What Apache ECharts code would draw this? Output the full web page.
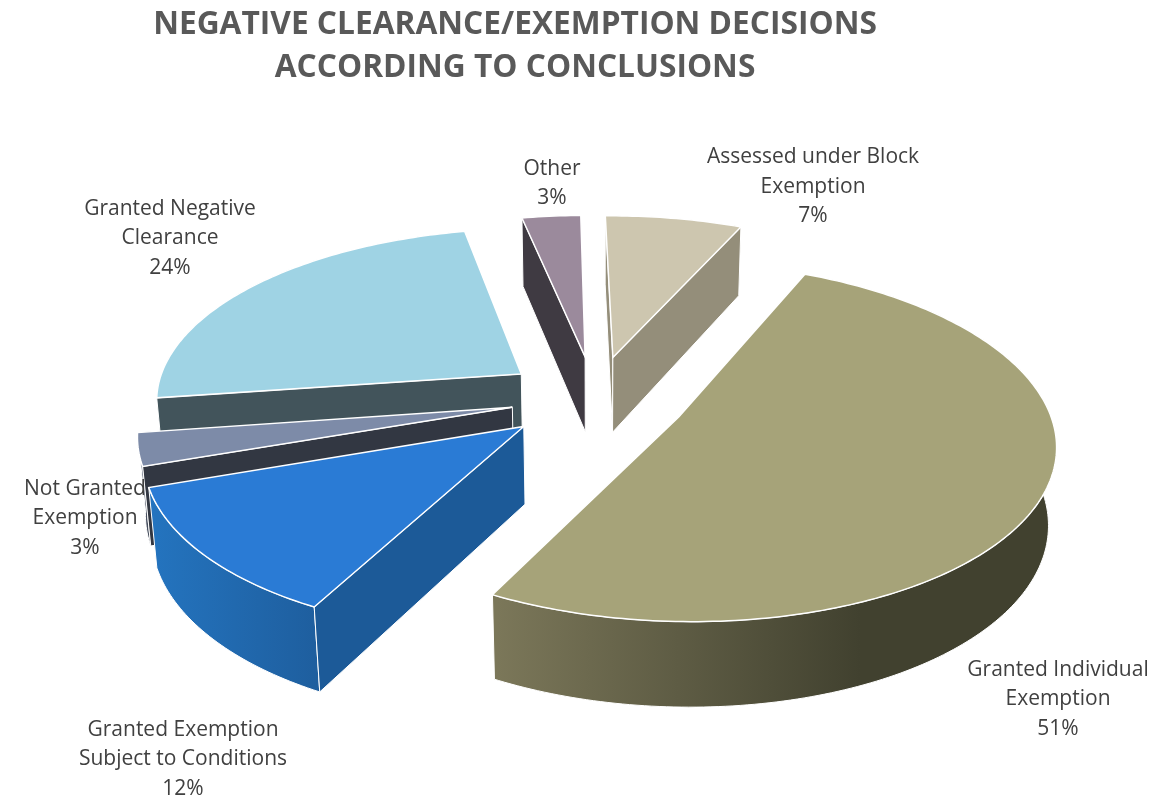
<!DOCTYPE html>
<html>
<head>
<meta charset="utf-8">
<title>Negative clearance/exemption decisions</title>
<script src="https://cdn.jsdelivr.net/npm/echarts@6/dist/echarts.min.js"></script>
<style>
  html, body { margin: 0; padding: 0; background: #fff; }
  #main { width: 1172px; height: 797px; }
</style>
</head>
<body>
<div id="main"></div>
<script>
// data, clockwise from the first slice
const categories = [
  'Granted Individual\nExemption',
  'Granted Exemption\nSubject to Conditions',
  'Not Granted\nExemption',
  'Granted Negative\nClearance',
  'Other',
  'Assessed under Block\nExemption'
];
const shares = [51, 12, 3, 24, 3, 7];

// styles
const topColors = ['#a6a379', '#2a7bd5', '#7d8ba8', '#9fd3e4', '#9b8a9c', '#cdc6af'];
const sideColors = ['#41412f', '#1c5a98', '#323742', '#42545b', '#3f3a42', '#948e7a'];
const rimGradients = [
  [497, 860, '#7b7759', '#41412f'],
  [150, 320, '#2474bf', '#1e5e9e'],
  [140, 155, '#5b657a', '#323742'],
  [158, 520, '#42545b', '#42545b'],
  [520, 585, '#3f3a42', '#3f3a42'],
  [610, 740, '#948e7a', '#948e7a']
];
const labelSpots = [[1058, 699.5], [183, 759.5], [85, 518.5], [170, 238.5], [552, 183.5], [813, 187]];
const explodes = [0.25, 0.25, 0.23, 0.25, 0.25, 0.25];
// back slices are painted first
const paintOrder = [4, 5, 3, 2, 1, 0];

// fake 3d camera for the tilted pie
const START_ANGLE = 24.2;
const THICKNESS = 0.24;
const CENTER_X = 595, CENTER_Y = 398;
const TILT = 27.8 * Math.PI / 180;
const CAM_DIST = 6.5, FOCAL = 2385;

const project = (x, y, z) => {
  const up = y * Math.sin(TILT) + z * Math.cos(TILT);
  const depth = CAM_DIST + y * Math.cos(TILT) - z * Math.sin(TILT);
  return [CENTER_X + FOCAL * x / depth, CENTER_Y - FOCAL * up / depth];
};

const total = shares.reduce((a, b) => a + b, 0);
const sliceStart = (idx) => {
  let sum = 0;
  for (let i = 0; i < idx; i++) sum += shares[i];
  return START_ANGLE + sum / total * 360;
};

// screen winding of a wall, tells which way it faces
const winding = (a, b, c) => (b[0] - a[0]) * (c[1] - b[1]) - (b[1] - a[1]) * (c[0] - b[0]);

const renderSlice = (params, api) => {
  const idx = api.value(0);
  const from = sliceStart(idx);
  const to = from + api.value(1) / total * 360;
  const mid = (from + to) / 2 * Math.PI / 180;
  const ox = explodes[idx] * Math.sin(mid), oy = explodes[idx] * Math.cos(mid);

  const topArc = [], lowArc = [];
  for (let a = from; a < to; a += 1) {
    const r = a * Math.PI / 180;
    topArc.push(project(ox + Math.sin(r), oy + Math.cos(r), 0));
    lowArc.push(project(ox + Math.sin(r), oy + Math.cos(r), -THICKNESS));
  }
  const e = to * Math.PI / 180;
  topArc.push(project(ox + Math.sin(e), oy + Math.cos(e), 0));
  lowArc.push(project(ox + Math.sin(e), oy + Math.cos(e), -THICKNESS));

  const apexTop = project(ox, oy, 0);
  const apexLow = project(ox, oy, -THICKNESS);
  const last = topArc.length - 1;
  const rim = rimGradients[idx];
  const edge = { stroke: '#fff', lineWidth: 1 };
  const poly = (points, fill, style) => ({
    type: 'polygon',
    shape: { points: points },
    style: Object.assign({ fill: fill }, style)
  });

  const children = [
    poly(topArc.concat(lowArc.slice().reverse()),
      new echarts.graphic.LinearGradient(rim[0], 0, rim[1], 0, [
        { offset: 0, color: rim[2] },
        { offset: 1, color: rim[3] }
      ], true), edge)
  ];
  if (winding(apexTop, topArc[0], lowArc[0]) < 0) {
    children.push(poly([apexTop, topArc[0], lowArc[0], apexLow], sideColors[idx], edge));
  }
  if (winding(apexTop, topArc[last], lowArc[last]) > 0) {
    children.push(poly([apexTop, topArc[last], lowArc[last], apexLow], sideColors[idx], edge));
  }
  children.push(poly([apexTop].concat(topArc), topColors[idx], { stroke: '#fff', lineWidth: 1.5 }));
  children.push({
    type: 'text',
    z2: 10,
    x: labelSpots[idx][0],
    y: labelSpots[idx][1],
    style: {
      text: categories[idx] + '\n' + api.value(1) + '%',
      fill: '#404040',
      font: '21px "Open Sans"',
      lineHeight: 29.5,
      align: 'center',
      verticalAlign: 'middle'
    }
  });
  return { type: 'group', children: children };
};

const chart = echarts.init(document.getElementById('main'));
chart.setOption({
  animation: false,
  title: {
    text: 'NEGATIVE CLEARANCE/EXEMPTION DECISIONS\nACCORDING TO CONCLUSIONS',
    left: 510,
    top: -2,
    textAlign: 'center',
    textStyle: {
      fontFamily: 'Open Sans',
      fontWeight: 'bold',
      fontSize: 31.7,
      lineHeight: 43.5,
      color: '#595959'
    }
  },
  series: [{
    type: 'custom',
    coordinateSystem: 'none',
    renderItem: renderSlice,
    data: paintOrder.map(i => [i, shares[i]])
  }]
});
</script>
</body>
</html>
